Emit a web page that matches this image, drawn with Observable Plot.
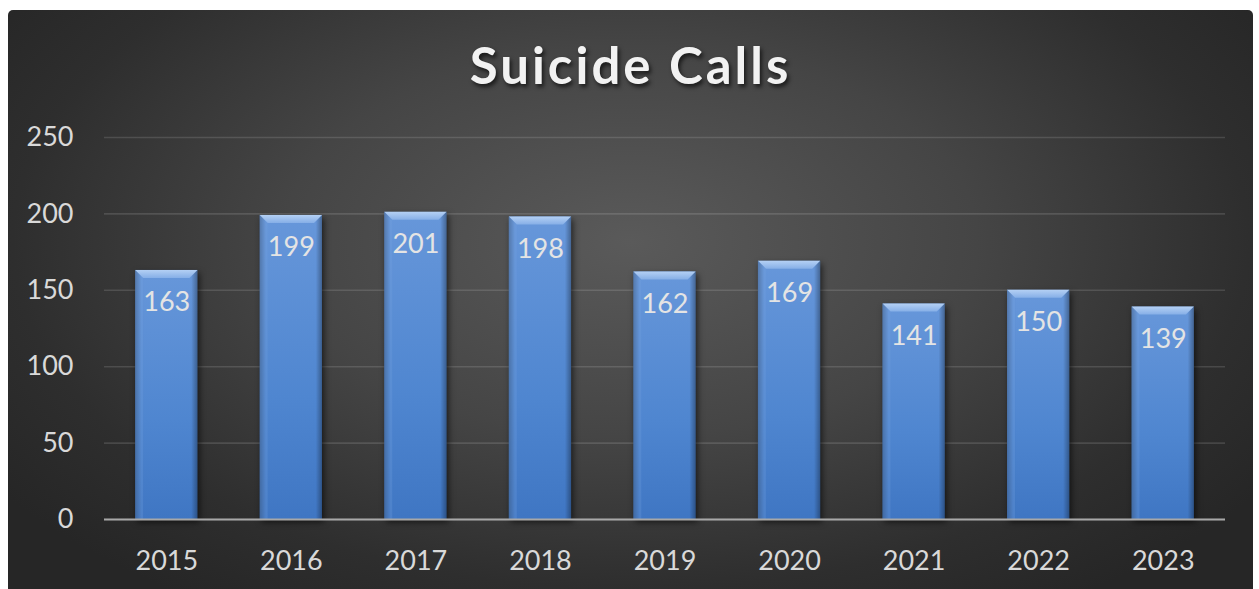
<!DOCTYPE html>
<html><head><meta charset="utf-8">
<script src="https://cdn.jsdelivr.net/npm/d3@7"></script>
<script src="https://cdn.jsdelivr.net/npm/@observablehq/plot@0.6"></script>
<style>
html,body{margin:0;padding:0;background:#fff;width:1259px;height:589px;overflow:hidden;}
#panel{position:absolute;left:8px;top:10px;width:1245px;height:579px;border-radius:5px 5px 0 0;
  background:radial-gradient(ellipse 62% 75% at 50% 40%, #5a5a5a 0%, #454545 45%, #2e2e2e 80%, #262626 100%);
  overflow:hidden;font-family:Lato,"Open Sans",sans-serif;}
#title{position:absolute;left:0;top:25px;width:100%;text-align:center;font-size:51px;line-height:60px;font-weight:bold;
  color:#f2f2f2;letter-spacing:3px;text-shadow:2px 3px 4px rgba(0,0,0,0.65);}
#chart{position:absolute;left:0;top:100px;}
</style>
</head><body>
<div id="panel"><div id="title">Suicide Calls</div><div id="chart"></div></div>
<script>
const years = ["2015","2016","2017","2018","2019","2020","2021","2022","2023"];
const calls = [163,199,201,198,162,169,141,150,139];
const yTicks = [0,50,100,150,200,250];
const data = years.map((year,i)=>({year, calls: calls[i]}));

function bevel(index, scales) {
  const x = scales.x, y = scales.y;
  const bw = x.bandwidth();
  const g = d3.create("svg:g");
  const b = 8;
  for (const d of data) {
    const x0 = x(d.year), y0 = y(d.calls);
    g.append("polygon")
      .attr("points", `${x0},${y0} ${x0+bw},${y0} ${x0+bw-b},${y0+b} ${x0+b},${y0+b}`)
      .attr("fill", "url(#bevelTop)");
    g.append("polygon")
      .attr("points", `${x0},${y0} ${x0+b},${y0+b} ${x0+b},${y(0)} ${x0},${y(0)}`)
      .attr("fill", "rgba(120,165,225,0.25)");
  }
  return g.node();
}

const plot = Plot.plot({
  width:1245, height:479,
  marginTop:27, marginBottom:70, marginLeft:96, marginRight:28,
  style:{background:"transparent", fontFamily:"Lato, 'Open Sans', sans-serif", fontSize:"27px", color:"#d9d9d9", overflow:"visible"},
  x:{domain:years, paddingInner:0.5, paddingOuter:0.25, round:false, label:null},
  y:{domain:[0,250], label:null},
  marks:[
    Plot.gridY(yTicks, {stroke:"#ffffff", strokeOpacity:0.13, strokeWidth:1.6}),
    Plot.axisY(yTicks, {tickSize:0, tickPadding:31, fontSize:27, fill:"#d9d9d9", label:null}),
    Plot.axisX({tickSize:0, tickPadding:31, fontSize:27, fill:"#d9d9d9", label:null}),
    Plot.barY(data, {x:"year", y:"calls", fill:"url(#barBody)"}),
    Plot.barY(data, {x:"year", y:"calls", fill:"url(#barEdges)"}),
    bevel,
    Plot.ruleY([0], {stroke:"#a8a8a8", strokeWidth:2}),
    Plot.text(data, {x:"year", y:"calls", text:d=>String(d.calls), dy:32, fill:"#e4e4e4", fontSize:27})
  ]
});

const ns = "http://www.w3.org/2000/svg";
const defs = document.createElementNS(ns, "defs");
defs.innerHTML = `
<linearGradient id="barBody" x1="0" y1="0" x2="0" y2="1">
  <stop offset="0" stop-color="#6797da"/>
  <stop offset="0.6" stop-color="#4f86d0"/>
  <stop offset="1" stop-color="#3f76c3"/>
</linearGradient>
<linearGradient id="barEdges" x1="0" y1="0" x2="1" y2="0">
  <stop offset="0" stop-color="#000" stop-opacity="0.28"/>
  <stop offset="0.1" stop-color="#000" stop-opacity="0"/>
  <stop offset="0.9" stop-color="#000" stop-opacity="0"/>
  <stop offset="1" stop-color="#000" stop-opacity="0.32"/>
</linearGradient>
<linearGradient id="bevelTop" x1="0" y1="0" x2="0" y2="1">
  <stop offset="0" stop-color="#b4d0f4"/>
  <stop offset="1" stop-color="#86afe7"/>
</linearGradient>`;
plot.insertBefore(defs, plot.firstChild);
const bars = plot.querySelectorAll('g[aria-label="bar"]');
if (bars[0]) bars[0].style.filter = "drop-shadow(2px 3px 3px rgba(0,0,0,0.6))";
document.getElementById("chart").appendChild(plot);
</script>
</body></html>
